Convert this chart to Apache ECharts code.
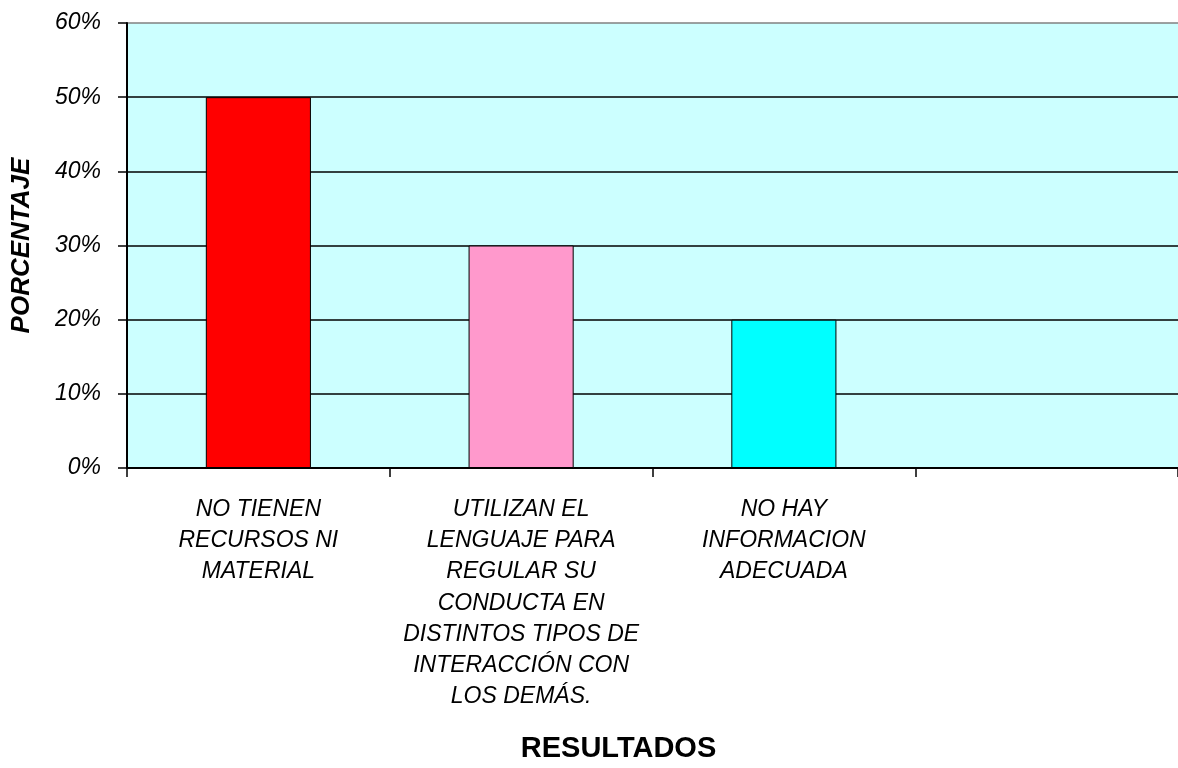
<!DOCTYPE html>
<html>
<head>
<meta charset="utf-8">
<script src="https://cdn.jsdelivr.net/npm/echarts@6/dist/echarts.min.js"></script>
<style>
html,body{margin:0;padding:0;background:#fff;}
#chart{width:1178px;height:768px;}
</style>
</head>
<body>
<div id="chart"></div>
<script>
const categories = [
  'NO TIENEN\nRECURSOS NI\nMATERIAL',
  'UTILIZAN EL\nLENGUAJE PARA\nREGULAR SU\nCONDUCTA EN\nDISTINTOS TIPOS DE\nINTERACCIÓN CON\nLOS DEMÁS.',
  'NO HAY\nINFORMACION\nADECUADA',
  ''
];
const values = [50, 30, 20];
const barColors = ['#FF0000', '#FF99CC', '#00FFFF'];
const yTicks = { min: 0, max: 60, interval: 10 };
const yAxisTitle = 'PORCENTAJE';
const xAxisTitle = 'RESULTADOS';

const FONT = '"Liberation Sans", Arial, sans-serif';
const chart = echarts.init(document.getElementById('chart'));
chart.setOption({
  animation: false,
  grid: {
    left: 127, right: 0, top: 23, bottom: 290,
    show: true, backgroundColor: '#CCFFFF', borderWidth: 0
  },
  xAxis: {
    type: 'category',
    data: categories,
    boundaryGap: true,
    name: xAxisTitle,
    nameLocation: 'middle',
    nameGap: 266,
    nameTextStyle: {
      fontFamily: FONT, fontSize: 29, fontWeight: 'bold', color: '#000',
      padding: [0, 68, 0, 0]
    },
    axisLine: { lineStyle: { color: '#000', width: 2 } },
    axisTick: { show: true, length: 9, lineStyle: { color: '#000', width: 1.5 } },
    axisLabel: {
      interval: 0,
      margin: 26,
      fontFamily: FONT, fontSize: 23, fontStyle: 'italic', color: '#000',
      lineHeight: 31.2
    },
    splitLine: { show: false }
  },
  yAxis: {
    type: 'value',
    min: yTicks.min, max: yTicks.max, interval: yTicks.interval,
    name: yAxisTitle,
    nameLocation: 'middle',
    nameRotate: 90,
    nameGap: 92,
    nameTextStyle: {
      fontFamily: FONT, fontSize: 26, fontWeight: 'bold', fontStyle: 'italic', color: '#000'
    },
    axisLine: { show: true, lineStyle: { color: '#000', width: 2 } },
    axisTick: { show: true, length: 9, lineStyle: { color: '#000', width: 1.5 } },
    axisLabel: {
      formatter: '{value}%',
      margin: 26,
      fontFamily: FONT, fontSize: 23, fontStyle: 'italic', color: '#000'
    },
    splitLine: {
      show: true,
      lineStyle: {
        color: ['#000', '#000', '#000', '#000', '#000', '#000', '#808080'],
        width: 1.5
      }
    }
  },
  series: [{
    type: 'bar',
    data: values,
    barWidth: '40%',
    itemStyle: {
      color: function (p) { return barColors[p.dataIndex]; },
      borderColor: '#000',
      borderWidth: 1
    }
  }]
});
</script>
</body>
</html>
